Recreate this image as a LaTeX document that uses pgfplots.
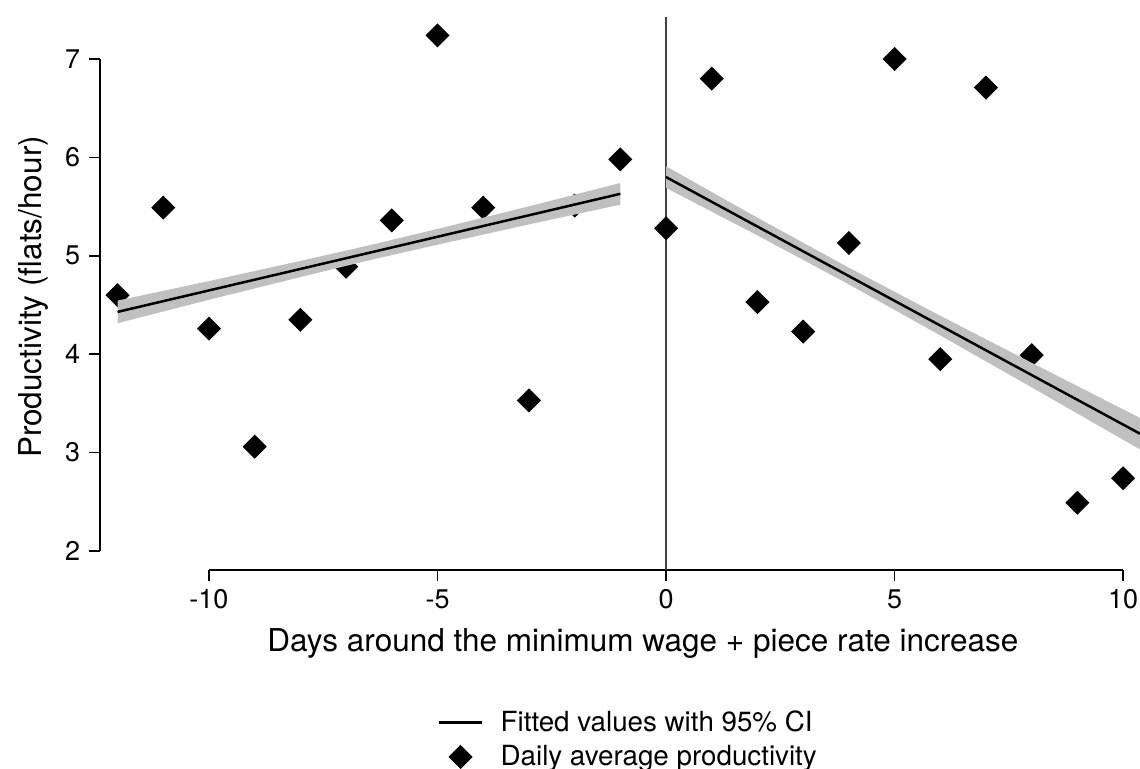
\documentclass[border=0pt]{standalone}
\usepackage{pgfplots}
\pgfplotsset{compat=1.18}
\usepackage{fontspec}
\setmainfont{TeX Gyre Heros}
\definecolor{bandgray}{RGB}{192,192,192}
\definecolor{vgray}{RGB}{64,64,64}
\begin{document}
\begin{tikzpicture}
\begin{axis}[
 scale only axis, width=416pt, height=221.2pt,
 xmin=-12.385, xmax=10.37, ymin=1.807, ymax=7.427,
 axis lines*=left, axis line style={draw=none},
 tick align=outside, major tick length=4.4pt,
 tick style={black, line width=0.7pt},
 xtick={-10,-5,0,5,10}, xticklabels={-10,-5,0,5,10},
 ytick={2,3,4,5,6,7}, yticklabels={2,3,4,5,6,7},
 ticklabel style={font=\fontsize{10.8}{13}\selectfont},
 xlabel={Days around the minimum wage + piece rate increase},
 ylabel={Productivity (flats/hour)},
 every axis x label/.style={at={(axis description cs:0.522,-0.148)}, anchor=base, font=\fontsize{12.6}{15}\selectfont},
 every axis y label/.style={at={(axis description cs:-0.0558,0.4937)}, rotate=90, anchor=base, font=\fontsize{12.6}{15}\selectfont},
 clip=false, clip marker paths=true,
 legend style={at={(axis description cs:0.3173,-0.235)}, anchor=north west, draw=none, fill=none,
   font=\fontsize{11.1}{13}\selectfont, legend cell align=left, column sep=5pt},
]
\addlegendimage{black, line width=1pt}
\addlegendentry{Fitted values with 95\% CI}
\addlegendimage{only marks, mark=square*, mark size=3.2pt, mark options={rotate=45, fill=black, draw=black}}
\addlegendentry{Daily average productivity}

% partial axis lines
\addplot[black, line width=0.7pt, forget plot] coordinates {(-12.385,2) (-12.385,7)};
\addplot[black, line width=0.7pt, forget plot] coordinates {(-10,1.807) (10,1.807)};

% vertical line at 0
\addplot[vgray, line width=0.9pt, forget plot] coordinates {(0,1.807) (0,7.427)};

% data points
\addplot[only marks, mark=square*, mark size=3.2pt, mark options={rotate=45, fill=black, draw=black}, forget plot] coordinates {
(-12,4.60) (-11,5.49) (-10,4.26) (-9,3.06) (-8,4.35) (-7,4.89) (-6,5.36) (-5,7.24) (-4,5.49) (-3,3.53) (-2,5.51) (-1,5.98)
(0,5.28) (1,6.80) (2,4.53) (3,4.23) (4,5.13) (5,7.00) (6,3.95) (7,6.71) (8,3.99) (9,2.49) (10,2.74)};

% CI bands
\addplot[fill=bandgray, draw=none, forget plot] coordinates {
(-12,4.545) (-10,4.743) (-8,4.948) (-6.5,5.106) (-5,5.273) (-3,5.503) (-1,5.740)
(-1,5.520) (-3,5.319) (-5,5.113) (-6.5,4.954) (-8,4.784) (-10,4.553) (-12,4.315)} -- cycle;
\addplot[fill=bandgray, draw=none, forget plot] coordinates {
(0,5.910) (2,5.387) (4,4.879) (6,4.391) (8,3.913) (10.37,3.352)
(10.37,3.032) (8,3.663) (6,4.191) (4,4.709) (2,5.207) (0,5.690)} -- cycle;

% fitted lines
\addplot[black, line width=1pt, forget plot] coordinates {(-12,4.43) (-1,5.63)};
\addplot[black, line width=1pt, forget plot] coordinates {(0,5.80) (10.37,3.192)};

\coordinate (bl) at (rel axis cs:0,0);
\coordinate (tr) at (rel axis cs:1,1);
\end{axis}
\pgfresetboundingbox
\path[use as bounding box] ([shift={(-40pt,-79.6pt)}]bl) rectangle ([shift={(0pt,6.8pt)}]tr);
\end{tikzpicture}
\end{document}
